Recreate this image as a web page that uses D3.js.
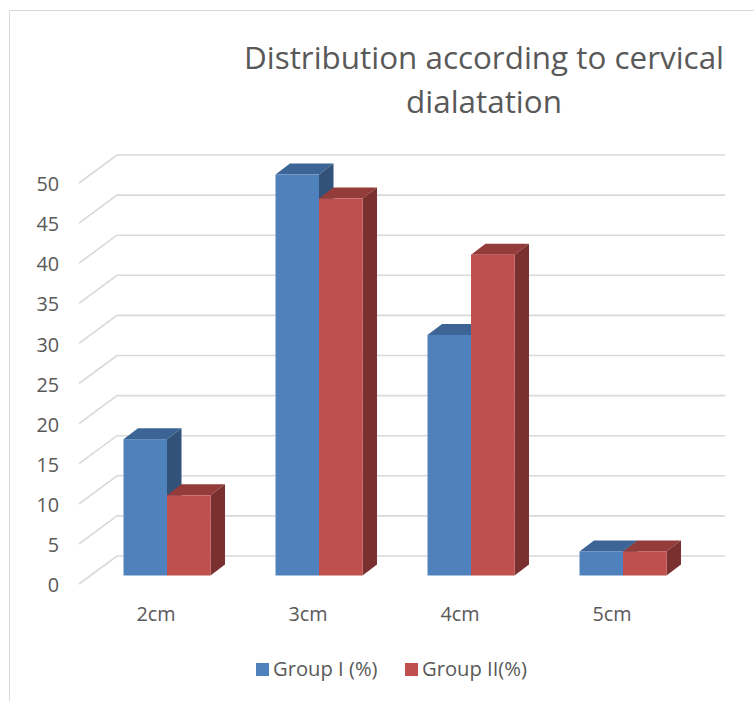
<!DOCTYPE html>
<html><head><meta charset="utf-8">
<script src="https://cdnjs.cloudflare.com/ajax/libs/d3/7.8.5/d3.min.js"></script>
<style>html,body{margin:0;padding:0;background:#fff}svg{display:block}text{font-family:"Open Sans",sans-serif}</style>
</head><body><svg id="c" width="754" height="701"></svg>
<script>
const categories = ["2cm","3cm","4cm","5cm"];
const seriesNames = ["Group I (%)","Group II(%)"];
const groupOne = [17,50,30,3];
const groupTwo = [10,47,40,3];
const yTicks = [0,5,10,15,20,25,30,35,40,45,50];
const titleLines = ["Distribution according to cervical","dialatation"];
const fronts = ["#4f81bd","#c0504d"];
const tops = ["#3c6595","#943c3a"];
const sides = ["#32527a","#7a302e"];

const svg = d3.select("#c");
svg.append("path").attr("d","M9.5,701V10.5H754").attr("fill","none").attr("stroke","#d9d9d9").attr("stroke-width",1);

const y = d3.scaleLinear().domain([0,50]).range([584,183]);
const x = d3.scaleBand().domain(categories).range([79,687]);
const group = d3.scaleBand().domain([0,1]).range([0,87]);
const wall = {dx:38,dy:-28}, barShift = {dx:12,dy:-8.5}, depth = {dx:14.5,dy:-11};

const g = svg.append("g");
g.selectAll("path.grid").data(yTicks).join("path").attr("class","grid")
  .attr("d",d=>`M${x.range()[0]},${y(d)}L${x.range()[0]+wall.dx},${y(d)+wall.dy}H${x.range()[1]+wall.dx}`)
  .attr("fill","none").attr("stroke","#d9d9d9").attr("stroke-width",1.6);

g.selectAll("text.yl").data(yTicks).join("text").attr("class","yl")
  .attr("x",59).attr("y",d=>y(d)+1).attr("dy","0.36em").attr("text-anchor","end")
  .attr("font-size",19.8).attr("fill","#595959").text(d=>d);

g.selectAll("text.xl").data(categories).join("text").attr("class","xl")
  .attr("x",d=>x(d)+x.bandwidth()/2+1).attr("y",621)
  .attr("text-anchor","middle").attr("font-size",19.8).attr("fill","#595959").text(d=>d);

const values = [groupOne,groupTwo];
const bars = [];
categories.forEach((c,i)=>values.forEach((v,s)=>bars.push({c,s,v:v[i]})));
const y0 = y(0)+barShift.dy;
const bar = g.selectAll("g.bar").data(bars).join("g").attr("class","bar");
const barLeft = d=>x(d.c)+(x.bandwidth()-87)/2+barShift.dx+group(d.s);
const barTop = d=>y(d.v)+barShift.dy;
const w = group.bandwidth();
bar.append("path").attr("fill",d=>tops[d.s])
  .attr("d",d=>`M${barLeft(d)},${barTop(d)}l${depth.dx},${depth.dy}h${w}l${-depth.dx},${-depth.dy}z`);
bar.append("path").attr("fill",d=>sides[d.s])
  .attr("d",d=>`M${barLeft(d)+w},${barTop(d)}l${depth.dx},${depth.dy}V${y0+depth.dy}l${-depth.dx},${-depth.dy}z`);
bar.append("rect").attr("fill",d=>fronts[d.s])
  .attr("x",barLeft).attr("y",barTop).attr("width",w).attr("height",d=>y0-barTop(d));

svg.selectAll("text.title").data(titleLines).join("text").attr("class","title")
  .attr("x",484).attr("y",(d,i)=>68.5+i*44).attr("text-anchor","middle")
  .attr("font-size",31.4).attr("fill","#595959").text(d=>d);

const legendX = [256,405];
const leg = svg.selectAll("g.leg").data(seriesNames).join("g").attr("class","leg")
  .attr("transform",(d,i)=>`translate(${legendX[i]},663)`);
leg.append("rect").attr("width",13).attr("height",13).attr("fill",(d,i)=>fronts[i]);
leg.append("text").attr("x",17).attr("y",13).attr("font-size",20.2).attr("fill","#595959").text(d=>d);
</script></body></html>
